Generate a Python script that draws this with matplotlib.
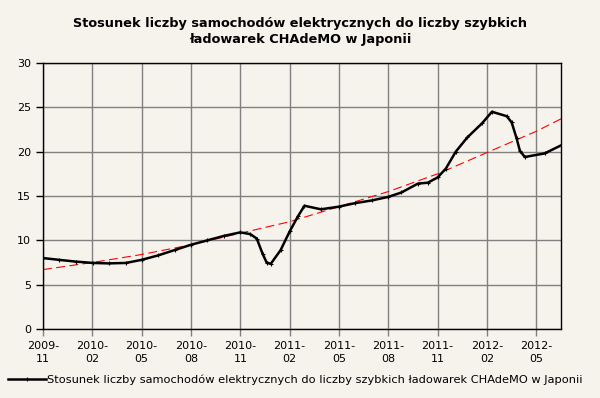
import matplotlib
matplotlib.use("Agg")
import matplotlib.pyplot as plt

# month offsets from 2009-11 and ratio values
months = [0, 0.97, 2.0, 3.04, 4.0, 5.04, 6.0, 7.0, 8.0, 9.0, 10.0, 11.0, 12.0, 12.6, 13.0,
          13.35, 13.6, 13.85, 14.45, 15.0, 15.5, 15.9, 16.9, 18.0, 19.0, 20.0, 21.0, 21.8,
          22.8, 23.4, 24.0, 24.5, 25.1, 25.8, 26.7, 27.3, 28.2, 28.5, 28.8, 29.0, 29.3,
          30.5, 31.6]
ratio = [8.0, 7.8, 7.6, 7.45, 7.4, 7.45, 7.8, 8.3, 8.9, 9.5, 10.0, 10.5, 10.9, 10.7, 10.2,
         8.5, 7.5, 7.35, 8.9, 11.0, 12.7, 13.9, 13.5, 13.8, 14.2, 14.5, 14.9, 15.4,
         16.4, 16.5, 17.1, 18.1, 20.0, 21.6, 23.2, 24.5, 24.0, 23.3, 21.5, 20.1, 19.4,
         19.8, 20.8]
# trend line
trend_x = [0, 3, 6, 9, 12, 15, 18, 21, 24, 27, 30, 31.5]
trend_y = [6.7, 7.5, 8.4, 9.5, 10.8, 12.1, 13.8, 15.5, 17.5, 19.9, 22.3, 23.7]

tick_pos = [0, 3, 6, 9, 12, 15, 18, 21, 24, 27, 30]
tick_labels = ["2009-\n11", "2010-\n02", "2010-\n05", "2010-\n08", "2010-\n11", "2011-\n02",
               "2011-\n05", "2011-\n08", "2011-\n11", "2012-\n02", "2012-\n05"]

title = "Stosunek liczby samochodów elektrycznych do liczby szybkich\nładowarek CHAdeMO w Japonii"
series_label = "Stosunek liczby samochodów elektrycznych do liczby szybkich ładowarek CHAdeMO w Japonii"

bg = "#F5F3EB"
fig = plt.figure(figsize=(6.0, 3.98), dpi=100, facecolor=bg)
ax = fig.add_axes([43/600, 1-329/398, (561-43)/600, (329-63)/398])
ax.set_facecolor(bg)

ax.plot(trend_x, trend_y, color="#FF0000", lw=0.8, dashes=(8, 4), zorder=2)
line, = ax.plot(months, ratio, color="black", lw=1.8, marker="+", ms=3, mew=0.8,
                label=series_label, zorder=3)

ax.set_xlim(0, 31.5)
ax.set_ylim(0, 30)
ax.set_yticks(range(0, 31, 5))
ax.set_xticks(tick_pos)
ax.set_xticklabels(tick_labels, fontsize=8, linespacing=1.4)
ax.tick_params(axis="y", labelsize=8, length=5, width=1, direction="out")
ax.tick_params(axis="x", length=5, width=1, direction="out", color="#808080")
ax.grid(True, color="#808080", lw=1)
ax.set_axisbelow(True)
for s in ax.spines.values():
    s.set_color("black")
    s.set_linewidth(1)

fig.text(0.5, 1-31.5/398, title, ha="center", va="center", fontsize=9.3,
         fontweight="bold", linespacing=1.3)

fig.legend(handles=[line], loc="center left", bbox_to_anchor=(0.005, 1-380/398),
           frameon=False, fontsize=8.2, handlelength=3.4, handletextpad=0.1,
           borderaxespad=0)

fig.savefig("out.png", dpi=100, facecolor=bg)
